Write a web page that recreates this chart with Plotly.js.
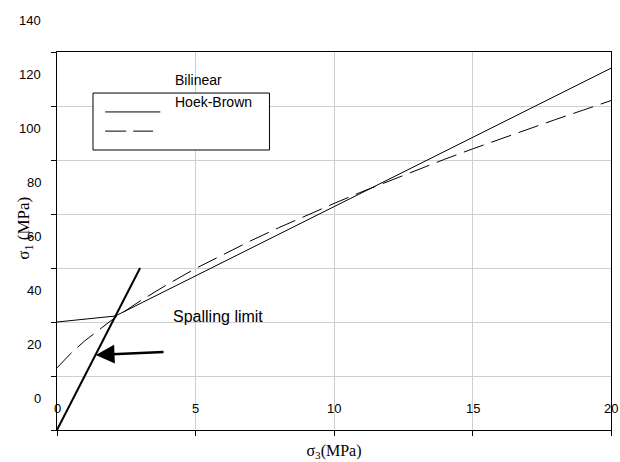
<!DOCTYPE html>
<html>
<head>
<meta charset="utf-8">
<script src="https://cdn.plot.ly/plotly-3.0.1.min.js"></script>
<style>html,body{margin:0;padding:0;background:#fff;}#chart{width:620px;height:462px;}</style>
</head>
<body>
<div id="chart"></div>
<script>
// ---- data ----
var xTickVals = [0, 5, 10, 15, 20];
var xTickText = ['0', '5', '10', '15', '20'];
var yTickVals = [0, 20, 40, 60, 80, 100, 120, 140];
var yTickText = ['0', '20', '40', '60', '80', '100', '120', '140'];

var bilinearX = [0, 2.1, 20];
var bilinearY = [40, 42.2, 134];

var hoekX = [0, 0.5, 1, 1.5, 2, 3, 4, 5, 6, 7, 8, 9, 10, 11, 12, 13, 14, 15, 16, 17, 18, 19, 20];
var hoekY = [23, 28.4, 33, 37.1, 40.9, 47.8, 54.0, 59.8, 65.1, 70.1, 74.9, 79.5, 83.9, 88.2, 92.3, 96.4, 100.3, 104.1, 107.8, 111.5, 115.0, 118.5, 122];

var spallX = [0, 3];
var spallY = [0, 60];

var legendNames = ['Bilinear', 'Hoek-Brown'];

// ---- traces ----
var traces = [
  {x: bilinearX, y: bilinearY, mode: 'lines', name: legendNames[0],
   line: {color: '#000', width: 1}, hoverinfo: 'skip'},
  {x: hoekX, y: hoekY, mode: 'lines', name: legendNames[1],
   line: {color: '#000', width: 1, dash: '21px,8px'}, hoverinfo: 'skip'},
  {x: spallX, y: spallY, mode: 'lines', name: 'Spalling limit',
   line: {color: '#000', width: 2}, hoverinfo: 'skip'}
];

var sans = 'Liberation Sans, Arial, sans-serif';
var serif = 'Liberation Serif, Times New Roman, serif';
var yMax = 140;

var annotations = [];
// x tick labels (drawn inside the plot, above the axis)
xTickVals.forEach(function (v, i) {
  annotations.push({x: v, y: 8, xref: 'x', yref: 'y', text: xTickText[i], showarrow: false,
    xanchor: 'center', yanchor: 'middle', font: {family: sans, size: 13, color: '#000'}});
});
// y tick labels (offset upward from the gridlines, as in the original)
yTickVals.forEach(function (v, i) {
  annotations.push({x: -0.025, y: (v + 11.5) / yMax, xref: 'paper', yref: 'paper', text: yTickText[i], showarrow: false,
    xanchor: 'right', yanchor: 'middle', font: {family: sans, size: 13, color: '#000'}});
});
// y axis title
annotations.push({x: -0.058, y: 0.535, xref: 'paper', yref: 'paper', text: 'σ<sub>1</sub> (MPa)', showarrow: false,
  textangle: -90, xanchor: 'center', yanchor: 'middle', font: {family: serif, size: 17, color: '#000'}});
// legend texts
annotations.push({x: 4.2, y: 129.5, xref: 'x', yref: 'y', text: legendNames[0], showarrow: false,
  xanchor: 'left', yanchor: 'middle', font: {family: sans, size: 14, color: '#000'}});
annotations.push({x: 4.2, y: 121.5, xref: 'x', yref: 'y', text: legendNames[1], showarrow: false,
  xanchor: 'left', yanchor: 'middle', font: {family: sans, size: 14, color: '#000'}});
// spalling limit label + arrow
annotations.push({x: 4.1, y: 42, xref: 'x', yref: 'y', text: 'Spalling limit', showarrow: false,
  xanchor: 'left', yanchor: 'middle', font: {family: sans, size: 16, color: '#000'}});
annotations.push({x: 1.4, y: 27.8, xref: 'x', yref: 'y', ax: 3.9, ay: 28.9, axref: 'x', ayref: 'y',
  text: '', showarrow: true, arrowhead: 2, arrowsize: 1.5, arrowwidth: 2.5, arrowcolor: '#000'});

var shapes = [
  // legend box
  {type: 'rect', xref: 'x', yref: 'y', x0: 1.3, x1: 7.67, y0: 103.7, y1: 124.8,
   line: {color: '#000', width: 1}, fillcolor: '#fff', layer: 'above'},
  {type: 'line', xref: 'x', yref: 'y', x0: 1.74, x1: 3.73, y0: 117.8, y1: 117.8,
   line: {color: '#000', width: 1}, layer: 'above'},
  {type: 'line', xref: 'x', yref: 'y', x0: 1.74, x1: 3.47, y0: 110.7, y1: 110.7,
   line: {color: '#000', width: 1, dash: '21px,7px'}, layer: 'above'}
];

var layout = {
  width: 620, height: 462,
  margin: {l: 57, r: 9, t: 52, b: 32},
  paper_bgcolor: '#fff', plot_bgcolor: '#fff',
  showlegend: false,
  xaxis: {
    range: [0, 20], tickvals: xTickVals, showticklabels: false,
    ticks: 'outside', ticklen: 5, tickcolor: '#000', tickwidth: 1,
    showline: true, linecolor: '#000', linewidth: 1, mirror: true,
    showgrid: true, gridcolor: '#cfcfcf', gridwidth: 1, zeroline: false,
    title: {text: 'σ<sub>3</sub>(MPa)', font: {family: serif, size: 16, color: '#000'}, standoff: 9}
  },
  yaxis: {
    range: [0, yMax], tickvals: yTickVals, showticklabels: false,
    ticks: 'outside', ticklen: 5, tickcolor: '#000', tickwidth: 1,
    showline: true, linecolor: '#000', linewidth: 1, mirror: true,
    showgrid: true, gridcolor: '#cfcfcf', gridwidth: 1, zeroline: false
  },
  annotations: annotations,
  shapes: shapes
};

Plotly.newPlot('chart', traces, layout, {staticPlot: true, displayModeBar: false});
</script>
</body>
</html>
